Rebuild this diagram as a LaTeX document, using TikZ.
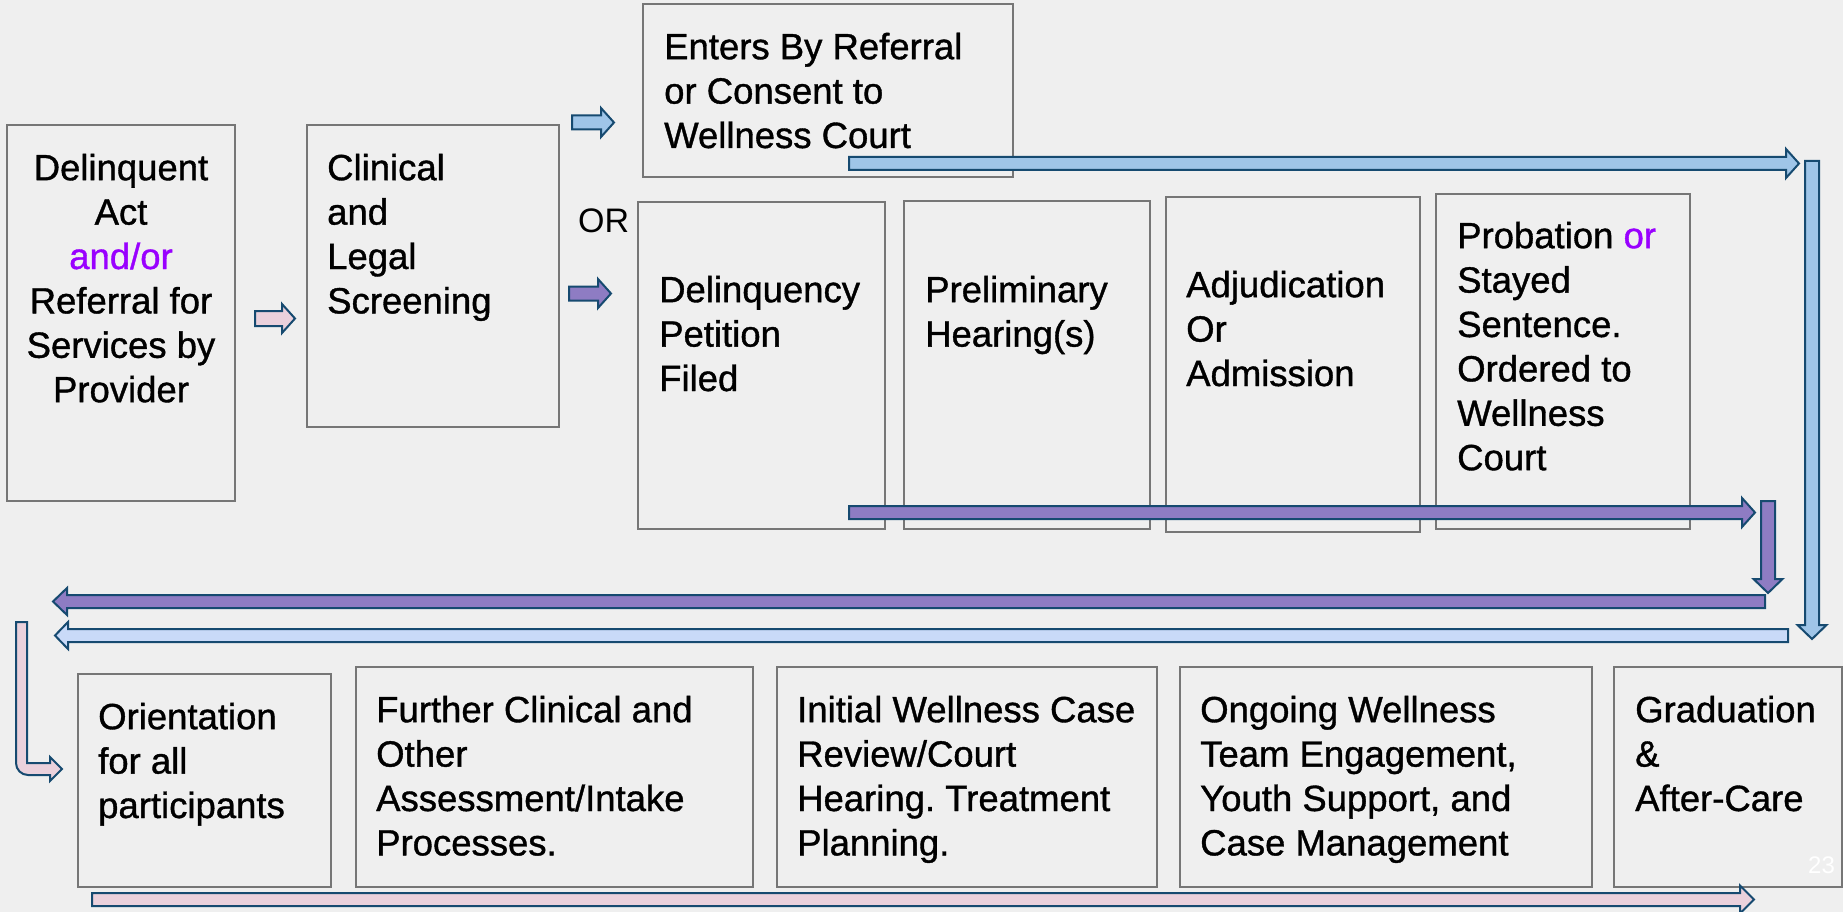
\documentclass[tikz,border=0pt]{standalone}
\usepackage{fontspec}
\setmainfont{Liberation Sans}
\newfontfamily\plainfont{Liberation Sans}[FakeBold=1]
\frenchspacing
\definecolor{bg}{HTML}{EFEFEF}
\definecolor{boxline}{HTML}{767676}
\definecolor{arrline}{HTML}{164A70}
\definecolor{bluef}{HTML}{9FC5E8}
\definecolor{purpf}{HTML}{8E7CC3}
\definecolor{lbluef}{HTML}{C9DAF8}
\definecolor{pinkf}{HTML}{EAD1DC}
\definecolor{vio}{HTML}{9900FF}
\newcommand\HArr[7]{\draw[#1] ({#2},{#4-#5}) -- ({#3-(#7)},{#4-#5}) -- ({#3-(#7)},{#4-#6}) -- ({#3},{#4}) -- ({#3-(#7)},{#4+#6}) -- ({#3-(#7)},{#4+#5}) -- ({#2},{#4+#5}) -- cycle;}
\newcommand\VArr[7]{\draw[#1] ({#2-#5},{#3}) -- ({#2-#5},{#4-(#7)}) -- ({#2-#6},{#4-(#7)}) -- ({#2},{#4}) -- ({#2+#6},{#4-(#7)}) -- ({#2+#5},{#4-(#7)}) -- ({#2+#5},{#3}) -- cycle;}
\newcommand\fs{\rule{0pt}{28pt}}
\tikzset{
  stepbox/.style={draw=boxline, line width=2pt, fill=bg},
  txt/.style={inner sep=0pt, align=left, font=\plainfont\fontsize{36.5}{44.4}\selectfont, text=black},
  arrbase/.style={draw=arrline, line width=2pt, line join=miter},
  blueA/.style={arrbase, fill=bluef},
  purpA/.style={arrbase, fill=purpf},
  lblueA/.style={arrbase, fill=lbluef},
  pinkA/.style={arrbase, fill=pinkf}
}
\begin{document}
\begin{tikzpicture}[x=1pt,y=-1pt]
\useasboundingbox (0,0) rectangle (1843,912);
\clip (0,0) rectangle (1843,912);
\fill[bg] (0,0) rectangle (1843,912);
% boxes
\draw[stepbox] (7,125) rectangle (235,501);
\draw[stepbox] (307,125) rectangle (559,427);
\draw[stepbox] (643,4) rectangle (1013,177);
\draw[stepbox] (638,202) rectangle (885,529);
\draw[stepbox] (904,201) rectangle (1150,529);
\draw[stepbox] (1166,197) rectangle (1420,532);
\draw[stepbox] (1436,194) rectangle (1690,529);
\draw[stepbox] (78,674) rectangle (331,887);
\draw[stepbox] (356,667) rectangle (753,887);
\draw[stepbox] (777,667) rectangle (1157,887);
\draw[stepbox] (1180,667) rectangle (1592,887);
\draw[stepbox] (1614,667) rectangle (1842,887);
% arrows
\HArr{pinkA}{255}{295}{318.5}{7.5}{14.5}{13}
\HArr{blueA}{572}{614}{122.5}{7}{14.5}{13}
\HArr{purpA}{569}{611}{293.5}{7}{14.5}{13}
\HArr{blueA}{849}{1799}{163.5}{6.5}{14.5}{13}
\VArr{blueA}{1812}{161}{639}{7}{14.5}{14}
\HArr{purpA}{849}{1755}{512.5}{6.5}{14.5}{13}
\HArr{purpA}{1765}{53}{601.5}{6.5}{13.5}{-14}
\VArr{purpA}{1768}{501}{593}{7}{14.5}{14}
\HArr{lblueA}{1788}{55}{635.5}{6.5}{13.5}{-13}
\HArr{pinkA}{92}{1754}{899.5}{6.5}{14}{14}
\draw[pinkA] (16,622) -- (27,622) -- (27,763) -- (50,763) -- (50,757) -- (62,769) -- (50,781) -- (50,775) -- (28,775) arc[start angle=90, end angle=180, radius=12] -- cycle;
% texts
\node[txt, align=center, anchor=north] (ta) at (121,152) {\fs Delinquent\\Act\\\textcolor{vio}{and/or}\\Referral for\\Services by\\Provider};
\node[txt, anchor=north west] (tb) at (327,152) {\fs Clinical\\and\\Legal\\Screening};
\node[txt, anchor=north west] (tc) at (664,31) {\fs Enters By Referral\\or Consent to\\Wellness Court};
\node[inner sep=0pt, anchor=north west, font=\fontsize{34}{40}\selectfont] (tor) at (578,204) {\fs OR};
\node[txt, anchor=north west] (td) at (659,274) {\fs Delinquency\\Petition\\Filed};
\node[txt, anchor=north west] (te) at (925,274) {\fs Preliminary\\Hearing(s)};
\node[txt, anchor=north west] (tf) at (1186,269) {\fs Adjudication\\Or\\Admission};
\node[txt, anchor=north west] (tg) at (1457,220) {\fs Probation \textcolor{vio}{or}\\Stayed\\Sentence.\\Ordered to\\Wellness\\Court};
\node[txt, anchor=north west] (th) at (98,701) {\fs Orientation\\for all\\participants};
\node[txt, anchor=north west] (ti) at (376,694) {\fs Further Clinical and\\Other\\Assessment/Intake\\Processes.};
\node[txt, anchor=north west] (tj) at (797,694) {\fs Initial Wellness Case\\Review/Court\\Hearing. Treatment\\Planning.};
\node[txt, anchor=north west] (tk) at (1200,694) {\fs Ongoing Wellness\\Team Engagement,\\Youth Support, and\\Case Management};
\node[txt, anchor=north west] (tm) at (1635,694) {\fs Graduation\\\&\\After-Care};
\node[inner sep=0pt, anchor=base west, font=\fontsize{24}{28}\selectfont, text=white] (pg) at (1808,873) {23};
\end{tikzpicture}
\end{document}
